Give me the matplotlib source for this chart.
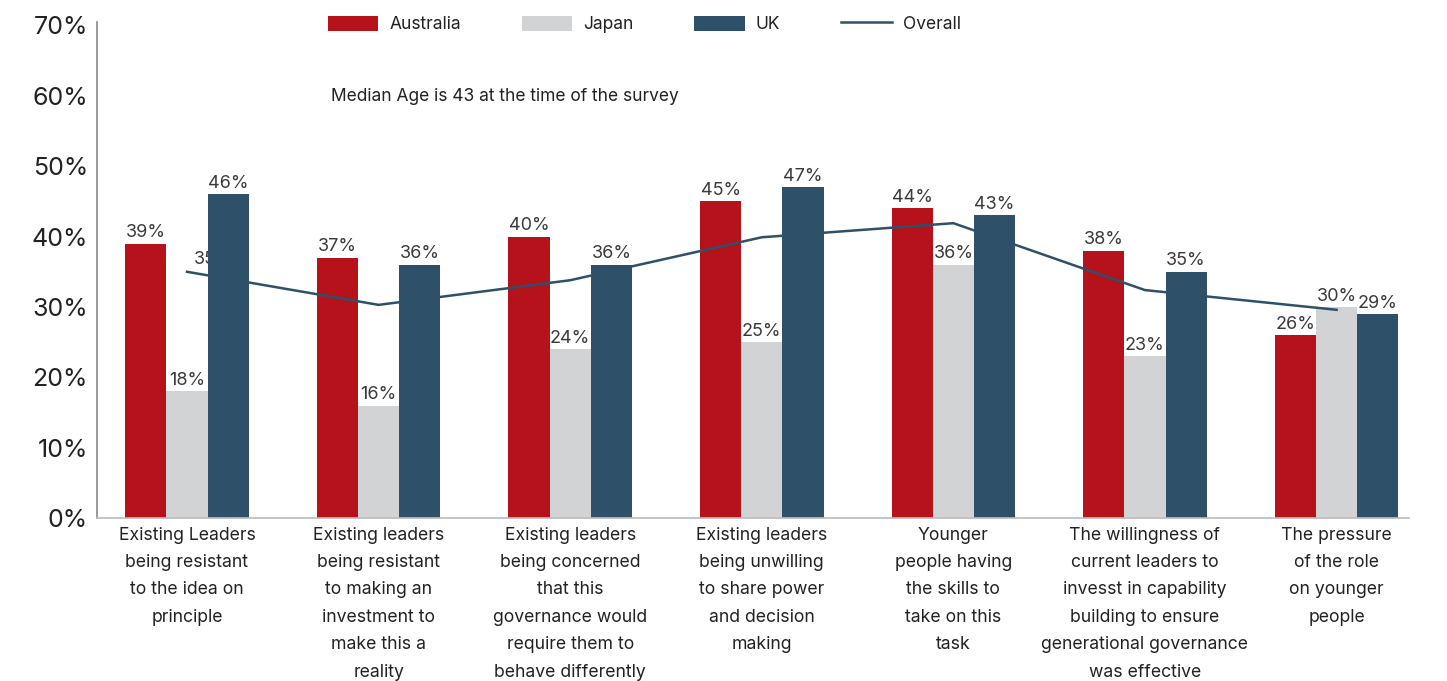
import numpy as np
import matplotlib.pyplot as plt

plt.rcParams['font.family'] = ['Inter', 'DejaVu Sans']

categories = [
    "Existing Leaders\nbeing resistant\nto the idea on\nprinciple",
    "Existing leaders\nbeing resistant\nto making an\ninvestment to\nmake this a\nreality",
    "Existing leaders\nbeing concerned\nthat this\ngovernance would\nrequire them to\nbehave differently",
    "Existing leaders\nbeing unwilling\nto share power\nand decision\nmaking",
    "Younger\npeople having\nthe skills to\ntake on this\ntask",
    "The willingness of\ncurrent leaders to\ninvesst in capability\nbuilding to ensure\ngenerational governance\nwas effective",
    "The pressure\nof the role\non younger\npeople",
]
australia = [39, 37, 40, 45, 44, 38, 26]
japan = [18, 16, 24, 25, 36, 23, 30]
uk = [46, 36, 36, 47, 43, 35, 29]
overall = [35, 30.3, 33.8, 39.9, 41.9, 32.4, 29.6]
yticks = [0, 10, 20, 30, 40, 50, 60, 70]

RED = '#b5121b'
GREY = '#d1d3d4'
NAVY = '#2f5069'
TEXT = '#3a3a3a'

fig = plt.figure(figsize=(14.47, 6.81), dpi=100)
ax = fig.add_axes([0.067, 0.239, 0.907, 0.729])

x = np.arange(len(categories))
w = 0.215

# overall label for the first group sits behind the UK bar
ax.text(x[0] + 0.14, overall[0] + 0.5, f"{overall[0]:.0f}%", ha='center', va='bottom',
        fontsize=13, color=TEXT, zorder=1)

handles = []
series = [(australia, RED, 'Australia', -w), (japan, GREY, 'Japan', 0), (uk, NAVY, 'UK', w)]
for vals, col, name, off in series:
    bars = ax.bar(x + off, vals, width=w, color=col, label=name, zorder=2)
    handles.append(bars)
    for b, v in zip(bars, vals):
        ax.text(b.get_x() + b.get_width() / 2, v + 0.35, f"{v}%", ha='center', va='bottom',
                fontsize=13, color=TEXT, zorder=4)

line, = ax.plot(x, overall, color=NAVY, lw=1.8, label='Overall', zorder=3)
handles.append(line)

ax.set_xlim(-0.47, 6.38)
ax.set_ylim(0, 70.5)
ax.set_yticks(yticks)
ax.set_yticklabels([f"{t}%" for t in yticks], fontsize=18, color='#222222')
ax.set_xticks(x)
ax.set_xticklabels(categories, fontsize=12.7, color='#222222', linespacing=1.8, va='top')
ax.tick_params(axis='both', length=0)
ax.tick_params(axis='y', pad=6.5)
ax.tick_params(axis='x', pad=6)

for s in ['top', 'right']:
    ax.spines[s].set_visible(False)
ax.spines['left'].set_color('#888888')
ax.spines['bottom'].set_color('#bbbbbb')
ax.spines['left'].set_linewidth(1.2)
ax.spines['bottom'].set_linewidth(1.2)

ax.legend(handles=handles, labels=['Australia', 'Japan', 'UK', 'Overall'],
          loc='center', bbox_to_anchor=(0.417, 0.995), ncol=4, frameon=False,
          fontsize=12.5, handlelength=2.9, handleheight=0.95, columnspacing=3.5,
          handletextpad=0.65, labelcolor='#222222')

ax.text(0.178, 0.85, "Median Age is 43 at the time of the survey", transform=ax.transAxes,
        fontsize=12.5, color='#222222', va='center')

fig.savefig('out.png', dpi=100)
